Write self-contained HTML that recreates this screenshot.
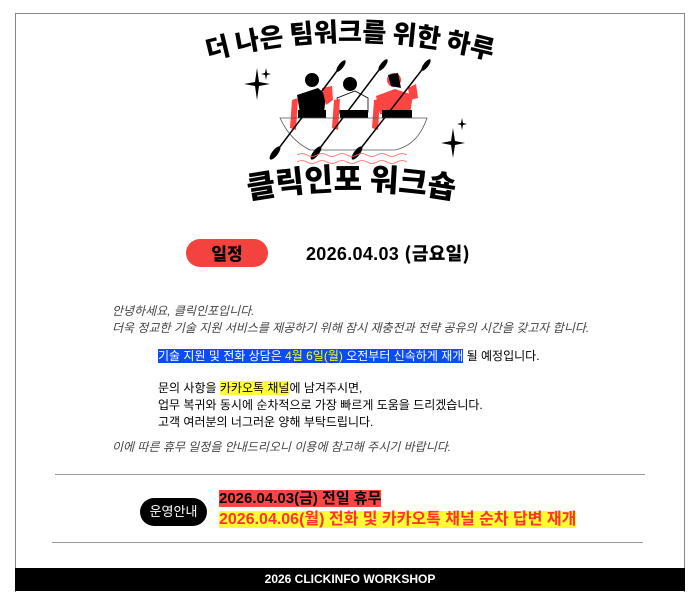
<!DOCTYPE html>
<html><head><meta charset="utf-8"><style>
body{margin:0;width:700px;height:600px;background:#fff;position:relative;overflow:hidden;font-family:"Liberation Sans","Noto Sans CJK KR",sans-serif}
.a{position:absolute;white-space:nowrap}
</style></head><body>
<div class="a" style="left:15px;top:13px;width:668px;height:578px;border:1px solid #888;border-bottom:none"></div>
<svg class="a" style="left:0;top:0" width="700" height="230">
<defs><path id="arc" d="M200,62 Q350,20 500,62"/><path id="arc2" d="M245,200 Q350,180 458,200"/></defs>
<text font-family="Noto Sans CJK KR,sans-serif" font-weight="900" font-size="26" fill="#000"><textPath href="#arc" startOffset="50%" text-anchor="middle">더 나은 팀워크를 위한 하루</textPath></text>
<text font-family="Noto Sans CJK KR,sans-serif" font-weight="900" font-size="31" fill="#000"><textPath href="#arc2" startOffset="50%" text-anchor="middle">클릭인포 워크숍</textPath></text>
<g fill="#000">
<path d="M257,68 L259,82 L270,84 L259,86 L257,100 L255,86 L244,84 L255,82Z"/>
<path d="M266,68 L267,73 L271,74 L267,75 L266,80 L265,75 L261,74 L265,73Z"/>
<path d="M453,128 L455,141 L465,143 L455,145 L453,158 L451,145 L441,143 L451,141Z"/>
<path d="M462,118 L463,123 L467,124 L463,125 L462,130 L461,125 L457,124 L461,123Z"/>
</g>
<path d="M297,95 L318,88 L326,95 L324,113 L300,113Z" fill="#000"/>
<circle cx="312" cy="80" r="7" fill="#000"/>
<path d="M292,100 L298,98 L296,130 L290,128Z" fill="#f44"/>
<path d="M322,88 L332,86 L333,100 L326,105Z" fill="#f44"/>
<path d="M337,98 L355,91 L368,98 L368,112 L340,114Z" fill="#fff" stroke="#000" stroke-width="0.8"/>
<circle cx="350" cy="84" r="7" fill="#000"/>
<path d="M334,100 L340,99 L338,130 L332,128Z" fill="#f44"/>
<path d="M376,96 L395,89 L413,95 L410,114 L380,114Z" fill="#f44"/>
<circle cx="394" cy="80" r="7" fill="#f44"/>
<path d="M388,75 L398,73 L401,88 L391,86Z" fill="#000"/>
<path d="M374,100 L380,99 L378,130 L372,128Z" fill="#f44"/>
<path d="M408,88 L416,84 L418,98 L410,100Z" fill="#f44"/>
<rect x="298" y="110" width="28" height="8" fill="#000"/><rect x="340" y="110" width="28" height="8" fill="#000"/><rect x="382" y="110" width="30" height="8" fill="#000"/>
<path d="M280,118 L427,118 Q418,145 395,150 L310,150 Q290,140 280,118Z" fill="none" stroke="#555" stroke-width="0.8"/>
<g stroke="#000" stroke-width="1.5"><line x1="343" y1="63" x2="276" y2="152"/><line x1="385" y1="62" x2="317" y2="152"/><line x1="428" y1="62" x2="358" y2="152"/></g>
<g fill="#000"><ellipse cx="341" cy="66" rx="2.5" ry="7" transform="rotate(37 341 66)"/><ellipse cx="383" cy="65" rx="2.5" ry="7" transform="rotate(37 383 65)"/><ellipse cx="426" cy="65" rx="2.5" ry="7" transform="rotate(37 426 65)"/>
<ellipse cx="275" cy="153" rx="3" ry="8" transform="rotate(37 275 153)"/><ellipse cx="316" cy="153" rx="3" ry="8" transform="rotate(37 316 153)"/><ellipse cx="357" cy="153" rx="3" ry="8" transform="rotate(37 357 153)"/></g>
<g fill="none" stroke="#f66" stroke-width="0.8"><path d="M297,155 q5,-3 10,0 t10,0 t10,0 t10,0 t10,0 t10,0 t10,0 t10,0 t10,0 t10,0 t10,0"/><path d="M297,162 q5,-3 10,0 t10,0 t10,0 t10,0 t10,0 t10,0 t10,0 t10,0 t10,0 t10,0 t10,0"/></g>
</svg>
<div class="a" style="left:186px;top:239px;width:82px;height:28px;border-radius:14px;background:#f4433f;text-align:center;font-size:17px;font-weight:900;line-height:28px;font-family:'Noto Sans CJK KR',sans-serif">일정</div>
<div class="a" style="left:306px;top:241px;font-size:18px;font-weight:bold;line-height:24px;letter-spacing:0.3px">2026.04.03 <span style="font-family:'Noto Sans CJK KR',sans-serif;font-weight:900">(금요일)</span></div>
<div class="a" style="left:112px;top:303px;font-size:12px;font-style:italic;color:#444;line-height:17px">안녕하세요, 클릭인포입니다.<br>더욱 정교한 기술 지원 서비스를 제공하기 위해 잠시 재충전과 전략 공유의 시간을 갖고자 합니다.</div>
<div class="a" style="left:158px;top:347px;font-size:12px;line-height:18px"><span style="background:#0a4cf5;color:#fff">기술 지원 및 전화 상담은 <span style="color:#ff0">4월 6일(월)</span> 오전부터 신속하게 재개</span> 될 예정입니다.</div>
<div class="a" style="left:158px;top:380px;font-size:12px;line-height:17px">문의 사항을 <span style="background:#ff3">카카오톡 채널</span>에 남겨주시면,<br>업무 복귀와 동시에 순차적으로 가장 빠르게 도움을 드리겠습니다.<br>고객 여러분의 너그러운 양해 부탁드립니다.</div>
<div class="a" style="left:112px;top:439px;font-size:12px;font-style:italic;color:#444;line-height:17px">이에 따른 휴무 일정을 안내드리오니 이용에 참고해 주시기 바랍니다.</div>
<div class="a" style="left:55px;top:474px;width:590px;border-top:1px solid #999"></div>
<div class="a" style="left:140px;top:498px;width:67px;height:28px;border-radius:14px;background:#000;color:#fff;text-align:center;font-size:13px;line-height:28px">운영안내</div>
<div class="a" style="left:219px;top:488px;font-size:15px;line-height:21px;font-weight:bold"><span style="background:#f44;color:#000">2026.04.03(금) 전일 휴무</span><br><span style="background:#ff3;color:#f33;font-size:16px">2026.04.06(월) 전화 및 카카오톡 채널 순차 답변 재개</span></div>
<div class="a" style="left:52px;top:542px;width:591px;border-top:1px solid #999"></div>
<div class="a" style="left:15px;top:568px;width:670px;height:23px;background:#000;color:#fff;text-align:center;font-size:12px;font-weight:bold;line-height:23px">2026 CLICKINFO WORKSHOP</div>
</body></html>
